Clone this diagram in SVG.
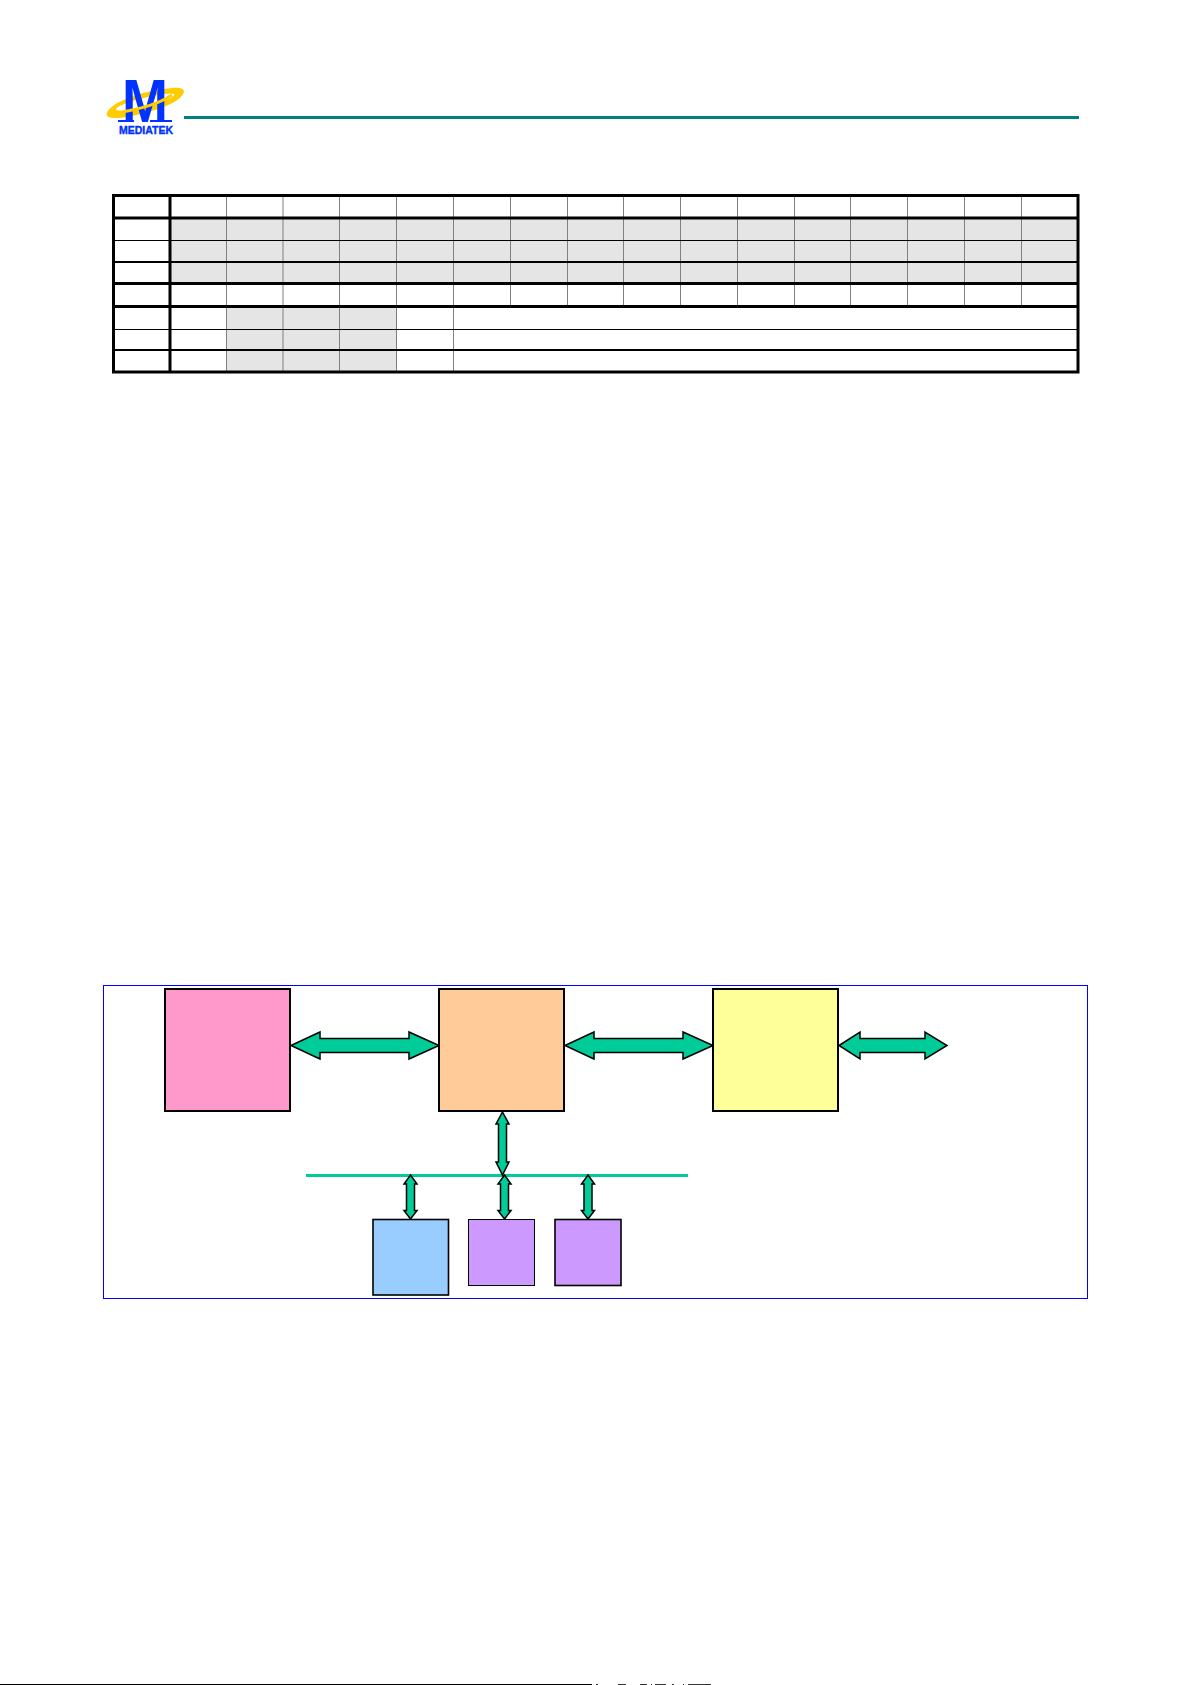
<svg xmlns="http://www.w3.org/2000/svg" width="1191" height="1685" viewBox="0 0 1191 1685">
<style>
.g{fill:#e5e5e5}
.thin{stroke:#000;stroke-width:1;fill:none}
.t3{stroke:#000;stroke-width:3;fill:none}
.t2{stroke:#000;stroke-width:2;fill:none}
.v{stroke:#808080;stroke-width:1;fill:none}
.box{stroke:#000;stroke-width:2}
.arr{fill:#00cc99;stroke:#000;stroke-width:1.500;stroke-linejoin:miter}
</style>
<rect width="1191" height="1685" fill="#fff"/>
<g id="logo">
<path d="M107 113 C110 103 140 91 172 88 C182 87 186 90 183 94 C178 104 150 113 126 117 C113 119 105 118 107 113 Z M116 110 C122 112 140 109 156 104 C168 100 176 96 174 94 C168 93 150 96 136 100 C126 103 115 107 116 110 Z" fill="#ffcc00" fill-rule="evenodd"/>
<text x="145" y="122" text-anchor="middle" font-family="'Liberation Sans',sans-serif" font-weight="700" font-size="62" textLength="46" lengthAdjust="spacingAndGlyphs" fill="#0033ff">M</text>
<path d="M118 122H134V120H118ZM150 122H172V120H150Z" fill="#0033ff"/>
<path d="M122 112 C140 109 160 103 172 95" fill="none" stroke="#ffcc00" stroke-width="3"/>
<text x="146" y="134" text-anchor="middle" font-family="'Liberation Sans',sans-serif" font-weight="700" font-size="10.500" textLength="54" lengthAdjust="spacingAndGlyphs" fill="#0033ff" stroke="#0033ff" stroke-width="0.400">MEDIATEK</text>
</g>
<rect id="header-rule" x="184" y="116" width="895" height="3" fill="#008080"/>
<g id="register-table">
<rect class="g" x="170" y="218" width="908" height="65"/>
<rect class="g" x="226" y="306" width="170" height="66"/>
<path class="v" d="M226.500 196V372M283 196V372M339.500 196V372M396.500 196V372M453.500 196V372M510.500 196V306M567.500 196V306M623.500 196V306M680.500 196V306M737.500 196V306M794.500 196V306M850.500 196V306M907.500 196V306M964.500 196V306M1021.500 196V306"/>
<path class="thin" d="M114 240.500H1078M114 329.500H1078"/>
<path class="t2" d="M114 262H1078M114 350H1078"/>
<path class="t3" d="M114 218H1078M114 283.500H1078M114 306.500H1078M170 196V372"/>
<rect class="t3" x="113.500" y="195.500" width="964.500" height="176.500"/>
</g>
<g id="frame"><rect x="103.500" y="985.500" width="984" height="313" fill="none" stroke="#0000ff" stroke-width="1"/></g>
<rect id="bus" x="306" y="1174" width="382" height="3" fill="#00cc99"/>
<g id="connectors">
<path class="arr" d="M291 1045.500L320 1032V1038.500H409V1032L439 1045.500L409 1059V1052.500H320V1059Z"/>
<path class="arr" d="M565 1045.500L594 1032V1038.500H683V1032L713 1045.500L683 1059V1052.500H594V1059Z"/>
<path class="arr" d="M839 1045.500L860 1032V1038.500H925V1032L947 1045.500L925 1059V1052.500H860V1059Z"/>
<path class="arr" d="M502.500 1112L509 1124H506.500V1162H509L502.500 1175L496 1162H498.500V1124H496Z"/>
<path class="arr" d="M410.500 1175L417 1184H414.500V1210.500H417L410.500 1219L404 1210.500H406.500V1184H404Z"/>
<path class="arr" d="M504.500 1175L511 1184H508.500V1210.500H511L504.500 1219L498 1210.500H500.500V1184H498Z"/>
<path class="arr" d="M588 1175L594.500 1184H592V1210.500H594.500L588 1219L581.500 1210.500H584V1184H581.500Z"/>
</g>
<g id="node-pink"><rect class="box" x="165" y="989" width="125" height="122" fill="#ff99cc"/></g>
<g id="node-orange"><rect class="box" x="439" y="989" width="125" height="122" fill="#ffcc99"/></g>
<g id="node-yellow"><rect class="box" x="713" y="989" width="125" height="122" fill="#ffff99"/></g>
<g id="node-blue"><rect x="373" y="1219.500" width="75.500" height="75.500" fill="#99ccff" stroke="#000" stroke-width="1.600"/></g>
<g id="node-purple-1"><rect x="468.500" y="1219.500" width="66" height="66" fill="#cc99ff" stroke="#000" stroke-width="1"/></g>
<g id="node-purple-2"><rect x="555" y="1219.500" width="66" height="66" fill="#cc99ff" stroke="#000" stroke-width="1.600"/></g>
<rect id="footer-rule" x="0" y="1684" width="592" height="1" fill="#000"/>
<path id="footer-fragments" d="M596 1684.500H598M618 1684.500H626M640 1684.500H647M651 1684.500H652M655 1684.500H666M672 1684.500H674M683 1684.500H684M688 1684.500H711" stroke="#333" stroke-width="1" fill="none"/>
</svg>
